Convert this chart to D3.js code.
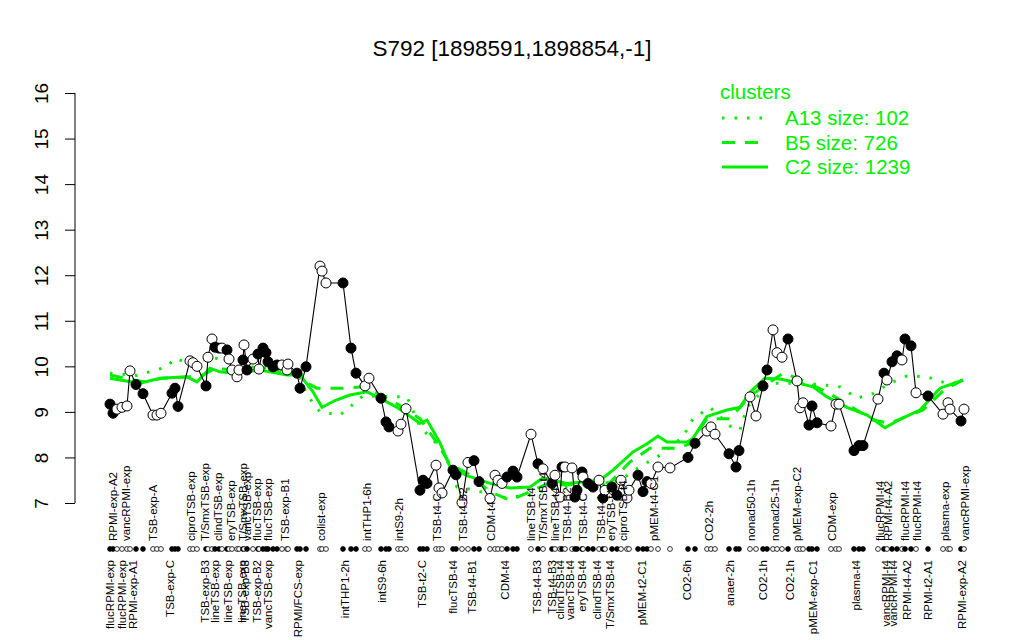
<!DOCTYPE html>
<html><head><meta charset="utf-8">
<script src="https://cdn.jsdelivr.net/npm/d3@7/dist/d3.min.js"></script>
<style>body{margin:0;background:#fff}svg{display:block;font-family:"Liberation Sans",Arial,sans-serif}</style>
</head><body>
<svg id="c" width="1024" height="640"></svg>
<script>
// sample positions along the condition axis (index units), expression values, filled flag
const samplePos = [2.5,3.25,4.25,5.5,6.75,7.5,9,10.75,13.25,14.25,15.25,18,18.75,19.5,22.5,23.25,24.25,26.5,27,28,28.75,29.75,30.5,31.75,32.25,33,34.25,34.75,35.75,36,36.75,38.25,39.5,39.75,40.75,41.5,42,43.25,44.25,45.5,46.75,47,49.25,50,51.5,55,55.5,56.5,60.75,62.75,64,66.25,67.25,70.25,71.5,72.25,74.5,75.25,76.5,80,80.75,81.75,84,84.75,85.5,88.25,89,90.5,92,93.5,94.75,97.5,98.75,99.5,100.5,101.75,103.25,104.25,107.75,109.5,110.75,113,113.75,115,115.5,116.25,118,118.75,119.25,120.5,120.75,122,123.25,124.75,125.75,126.25,128,129.25,130.25,131.75,132.25,134.5,135.75,136.75,137.75,139.5,142.5,147,148.75,151.75,152.75,153.75,157.25,159,159.75,162.5,164,165.75,166.75,168.25,169.25,170.5,172,174.25,175,175.75,177.25,178,179.25,182.75,184,184.75,188.5,189.75,190.75,194.5,196,196.75,198,199.25,200.5,201.25,202.75,204,207,210.75,212,212.5,215.25,216];
const sampleValues = [9.17,8.97,9.06,9.10,9.13,9.90,9.60,9.40,8.93,8.93,8.97,9.41,9.52,9.12,10.12,10.08,10.00,9.57,10.20,10.60,10.42,10.40,10.40,10.36,10.16,9.92,9.77,9.92,10.14,10.47,9.92,10.16,10.27,9.94,10.40,10.30,10.10,9.99,10.03,10.03,9.92,10.05,9.85,9.52,9.99,12.20,12.09,11.83,11.83,10.40,9.85,9.57,9.74,9.30,8.78,8.67,8.58,8.73,9.07,7.28,7.50,7.43,7.83,7.33,7.22,7.72,7.62,7.01,7.89,7.93,7.47,7.10,7.61,7.50,7.43,7.57,7.70,7.57,8.51,7.86,7.75,7.43,7.61,7.13,7.79,7.79,7.77,7.13,7.28,7.68,7.57,7.43,7.35,7.50,7.11,7.28,7.35,7.17,7.50,7.11,7.28,7.61,7.25,7.47,7.43,7.79,7.77,8.00,8.31,8.58,8.67,8.51,8.08,7.79,8.15,9.33,8.91,9.57,9.92,10.80,10.30,10.20,10.60,9.68,9.09,9.20,8.71,9.13,8.76,8.69,9.17,9.17,8.15,8.26,8.26,9.28,9.85,9.70,10.10,10.23,10.14,10.60,10.45,9.42,9.35,8.95,9.20,9.06,8.80,9.06];
const sampleFilled = [1,1,0,0,0,0,1,1,0,0,0,1,1,1,0,0,0,1,0,0,1,1,0,1,0,0,0,0,1,0,1,0,1,0,1,1,1,1,1,0,0,0,1,1,1,0,0,0,1,1,1,0,0,1,1,1,0,0,0,1,1,1,0,0,0,1,1,0,0,1,1,0,0,0,0,1,1,1,0,1,0,1,0,0,1,0,0,1,1,1,0,1,1,0,1,0,1,1,0,0,0,1,1,1,0,0,0,1,1,0,0,0,1,1,1,0,0,1,1,0,0,0,1,0,0,0,1,1,1,0,0,0,1,1,1,0,1,0,1,1,0,1,1,0,1,0,0,0,1,0];

// labels above the rug and below the rug
const topLabels = ["RPMI-exp-A2","vancRPMI-exp","TSB-exp-A","ciproTSB-exp","T/SmxTSB-exp","clindTSB-exp","eryTSB-exp","T/SmxTSB-exp","vancTSB-exp","flucTSB-exp","flucTSB-exp","TSB-exp-B1","colist-exp","intTHP1-6h","intS9-2h","TSB-t4-C","TSB-t4-B2","CDM-t4","lineTSB-t4","T/SmxTSB-t4","lineTSB-t4","TSB-t4-B2","TSB-t4-C","TSB-t4-A","eryTSB-t4","ciproTSB-t4","pMEM-t4-C1","CO2-2h","nonad50-1h","nonad25-1h","pMEM-exp-C2","CDM-exp","flucRPMI-t4","RPMI-t4-A2","flucRPMI-t4","flucRPMI-t4","plasma-exp","vancRPMI-exp"];
const topLabelPos = [3.25,6.5,13.25,22.75,26.25,29.5,32.75,35.75,36.75,39.25,42,46.25,55.25,66.75,74.75,84.25,90.75,97.75,107.75,110.75,113.75,116.75,120.75,125.25,127.75,130.75,138.5,152.25,162.75,168.75,174.25,183,195,197,201.25,204.25,211.25,216.25];
const bottomLabels = ["flucRPMI-exp","flucRPMI-exp","RPMI-exp-A1","TSB-exp-C","TSB-exp-B3","lineTSB-exp","lineTSB-exp","lineTSB-exp","TSB-exp-B3","TSB-exp-B2","vancTSB-exp","RPMI/FCS-exp","intTHP1-2h","intS9-6h","TSB-t2-C","flucTSB-t4","TSB-t4-B1","CDM-t4","TSB-t4-B3","TSB-t4-B3","clindTSB-t4","vancTSB-t4","eryTSB-t4","clindTSB-t4","T/SmxTSB-t4","pMEM-t2-C1","CO2-6h","anaer-2h","CO2-1h","CO2-1h","pMEM-exp-C1","plasma-t4","vancRPMI-t4","vancRPMI-t4","RPMI-t4-A2","RPMI-t2-A1","RPMI-exp-A2"];
const bottomLabelPos = [2.5,5.5,8.25,17.5,26.25,28.75,32,35.5,36.25,39.25,42,49.5,61.25,70.5,80.5,88.25,93,101.25,109.25,113,115,117.5,120.5,124.25,127.5,135.5,146.75,157.5,165.75,172.5,178.25,189,196.5,198.25,201.75,207,215.5];

// cluster profiles
const clusterNames = ["A13 size: 102","B5 size: 726","C2 size: 1239"];
const a13Pos = [2.5,9.25,16.75,18.75,22.5,28.25,35,45,50,51.75,55,60,65.75,76.75,80,85,86.75,89.25,92.5,97.5,101.75,107.5,115,125,130,135,140,145.75,148.25,152.5,158,160,161.75,167.5,174.25,180,185,189.25,193.25,197.5,201.75,206.75,212.5,216.25];
const a13Val = [9.85,9.80,9.99,10.18,10.05,10.20,10.0,9.95,9.75,9.37,9.00,8.93,9.35,9.33,8.67,8.23,7.94,7.35,7.30,7.20,7.10,7.20,7.35,7.40,7.50,7.80,8.05,8.45,8.85,9.10,8.65,8.60,9.10,9.63,9.63,9.60,9.55,9.30,9.40,9.63,9.79,9.77,9.60,9.65];
const b5Pos = [2.5,7.5,10.75,15.75,25,28.75,35,45,50,51.75,54.25,57.5,60.75,65.75,70,74.25,80,84.25,87.5,92.5,97.5,102.5,106.25,111.25,120,127.5,132.5,137.5,144.25,147.5,151.75,157.5,162.5,170.75,175,182.5,193.25,197.5,205.75,211.25,216.25];
const b5Val = [9.81,9.72,9.66,9.74,9.78,9.95,9.92,9.88,9.85,9.63,9.52,9.52,9.52,9.55,9.38,9.18,8.85,8.32,7.85,7.62,7.25,7.06,7.20,7.40,7.40,7.45,7.90,8.20,8.20,8.30,8.85,8.85,9.35,9.85,9.72,9.40,8.82,8.75,9.04,9.50,9.72];
const c2Pos = [2.5,5,10,15,21.75,24.25,27.5,30,33.25,40,46.75,50,53.25,55.5,58.75,62.5,66.75,70,74.25,80,81.75,85,87.5,91.75,97.5,102.5,107.5,110.75,116.75,125,128.25,133.25,136.75,139.5,141.75,146.75,148.25,151.75,156.75,160,162.5,166.25,170,173.25,178.25,181.75,186.75,191.75,196.25,200.75,205,210,215.75];
const c2Val = [9.74,9.70,9.63,9.74,9.77,9.66,9.96,9.88,9.85,9.92,9.81,9.81,9.44,9.10,9.25,9.37,9.44,9.30,9.10,8.75,8.82,8.32,7.80,7.60,7.43,7.33,7.35,7.55,7.43,7.50,7.72,8.12,8.30,8.47,8.34,8.34,8.42,8.90,9.04,9.10,9.43,9.74,9.72,9.66,9.55,9.33,9.10,8.93,8.65,8.87,9.04,9.52,9.70];
const yTicks = [7,8,9,10,11,12,13,14,15,16];
const titleText = "S792 [1898591,1898854,-1]";

const GREEN = "#00ee00";
const svg = d3.select("#c");
const x = d3.scaleLinear().domain([0, 220]).range([100, 980]);
const y = d3.scaleLinear().domain([7, 16]).range([503, 93]);

// title
svg.append("text").attr("x", 512).attr("y", 56).attr("text-anchor", "middle")
  .attr("font-size", 22.5).text(titleText);

// y axis
const yAxis = d3.axisLeft(y).tickValues(yTicks).tickSize(10).tickFormat(d3.format("d"));
const ga = svg.append("g").attr("transform", "translate(75,0)").call(yAxis);
ga.select(".domain").attr("stroke", "#000").attr("d", `M0,${y(7)}V${y(16)}`);
ga.selectAll(".tick line").attr("stroke", "#000");
ga.selectAll(".tick text").attr("font-size", 19).attr("fill", "#000")
  .attr("font-family", '"Liberation Sans",Arial,sans-serif')
  .attr("transform", "translate(-27,0) rotate(-90)")
  .attr("x", 0).attr("dy", 0).attr("text-anchor", "middle");

// cluster lines
const line = d3.line().x(d => x(d[0])).y(d => y(d[1]));
const zip = (p, v) => p.map((d, i) => [d, v[i]]);
const styles = [{dash: "2.5,10"}, {dash: "13,10"}, {dash: null}];
[[a13Pos, a13Val], [b5Pos, b5Val], [c2Pos, c2Val]].forEach((s, i) => {
  const p = svg.append("path").datum(zip(s[0], s[1])).attr("d", line)
    .attr("fill", "none").attr("stroke", GREEN).attr("stroke-width", 3);
  if (styles[i].dash) p.attr("stroke-dasharray", styles[i].dash);
});

// sample profile
const samples = samplePos.map((p, i) => ({p, v: sampleValues[i], f: sampleFilled[i]}));
svg.append("path").datum(samples).attr("d", d3.line().x(d => x(d.p)).y(d => y(d.v)))
  .attr("fill", "none").attr("stroke", "#000").attr("stroke-width", 1.1);
svg.append("g").selectAll("circle").data(samples).join("circle")
  .attr("cx", d => x(d.p)).attr("cy", d => y(d.v)).attr("r", 5)
  .attr("fill", d => d.f ? "#000" : "#fff").attr("stroke", "#000").attr("stroke-width", 1);

// rug
svg.append("g").selectAll("circle").data(samples).join("circle")
  .attr("cx", d => x(d.p)).attr("cy", 549).attr("r", 2.4)
  .attr("fill", d => d.f ? "#000" : "#fff").attr("stroke", "#000").attr("stroke-width", 0.8);

// labels
svg.append("g").selectAll("text").data(topLabels).join("text")
  .attr("transform", (d, i) => `translate(${x(topLabelPos[i])},541) rotate(-90)`)
  .attr("dy", "0.35em").attr("text-anchor", "start").attr("font-size", 11.5).text(d => d);
svg.append("g").selectAll("text").data(bottomLabels).join("text")
  .attr("transform", (d, i) => `translate(${x(bottomLabelPos[i])},560) rotate(-90)`)
  .attr("dy", "0.35em").attr("text-anchor", "end").attr("font-size", 11.5).text(d => d);

// legend
const lg = svg.append("g").attr("fill", GREEN);
lg.append("text").attr("x", 720).attr("y", 99).attr("font-size", 20.5).text("clusters");
clusterNames.forEach((n, i) => {
  const yy = 118 + i * 24.5;
  const l = lg.append("line").attr("x1", 722).attr("x2", 768).attr("y1", yy).attr("y2", yy)
    .attr("stroke", GREEN).attr("stroke-width", 3);
  if (styles[i].dash) l.attr("stroke-dasharray", styles[i].dash);
  lg.append("text").attr("x", 785).attr("y", yy + 7).attr("font-size", 20.5).text(n);
});
</script>
</body></html>
